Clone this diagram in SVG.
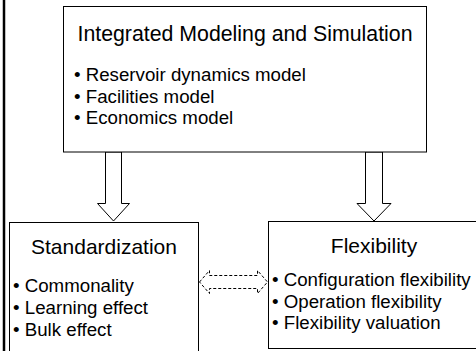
<svg xmlns="http://www.w3.org/2000/svg" width="476" height="351" viewBox="0 0 476 351">
  <style>
    .box { fill: #ffffff; stroke: #000000; stroke-width: 1; }
    .head { font-family: "Liberation Sans", Arial, sans-serif; font-size: 21px; fill: #000000; }
    .title { font-size: 21.3px; }
    .item { font-family: "Liberation Sans", Arial, sans-serif; font-size: 18.7px; fill: #000000; }
    .blk { fill: #ffffff; stroke: #000000; stroke-width: 1; }
    .dash { fill: #ffffff; stroke: #000000; stroke-width: 1; stroke-dasharray: 3 2; }
  </style>
  <rect x="0" y="0" width="476" height="351" fill="#ffffff"/>
  <!-- left margin rule -->
  <line x1="4" y1="0" x2="4" y2="351" stroke="#000000" stroke-width="2.5"/>

  <g id="connectors">
    <!-- block arrows down from the top box -->
    <path class="blk" d="M105.5,152 L121.5,152 L121.5,203.5 L129.5,203.5 L113.5,221 L97.5,203.5 L105.5,203.5 Z"/>
    <path class="blk" d="M365.5,152 L382.5,152 L382.5,203.5 L391,203.5 L374,221 L357,203.5 L365.5,203.5 Z"/>
    <!-- dashed two-way block arrow -->
    <path class="dash" d="M199.5,282 L209.5,270.5 L209.5,275.5 L257.5,275.5 L257.5,270.5 L267.5,282 L257.5,293.5 L257.5,288.5 L209.5,288.5 L209.5,293.5 Z"/>
  </g>

  <g id="ims">
    <rect class="box" x="63.5" y="6.5" width="363" height="145.5"/>
    <text class="head title" x="245" y="41" text-anchor="middle">Integrated Modeling and Simulation</text>
    <text class="item" x="74" y="81">• Reservoir dynamics model</text>
    <text class="item" x="74" y="102.5">• Facilities model</text>
    <text class="item" x="74" y="124">• Economics model</text>
  </g>

  <g id="standardization">
    <rect class="box" x="9.5" y="222.5" width="189" height="140"/>
    <text class="head" x="104" y="254" text-anchor="middle">Standardization</text>
    <text class="item" x="13" y="292">• Commonality</text>
    <text class="item" x="13" y="314">• Learning effect</text>
    <text class="item" x="13" y="336">• Bulk effect</text>
  </g>

  <g id="flexibility">
    <rect class="box" x="268.5" y="221.5" width="220" height="127"/>
    <text class="head" x="374" y="253" text-anchor="middle">Flexibility</text>
    <text class="item" x="272" y="286">• Configuration flexibility</text>
    <text class="item" x="272" y="307.5">• Operation flexibility</text>
    <text class="item" x="272" y="329">• Flexibility valuation</text>
  </g>
</svg>
